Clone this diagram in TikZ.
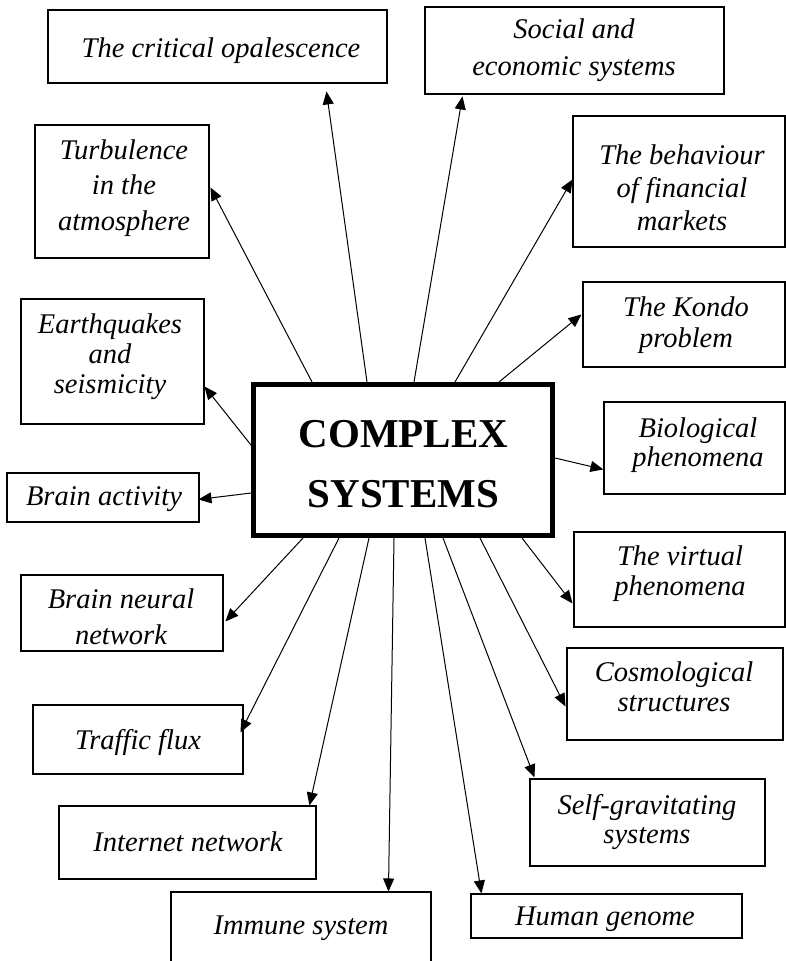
\documentclass[tikz,border=0pt]{standalone}
\usepackage{fontspec}
\setmainfont{Liberation Serif}
\usetikzlibrary{arrows.meta,calc}
\newcommand\lblfont[1]{\fontsize{28.5}{#1}\selectfont\itshape}
\begin{document}
\begin{tikzpicture}[x=1pt,y=-1pt,
  box/.style={draw, line width=1.1pt, inner sep=0pt, rectangle},
  lbl/.style={inner sep=0pt, align=center},
  arr/.style={line width=1pt, -{Triangle[length=13pt,width=11pt]}},
]
\useasboundingbox (0,0) rectangle (786,961);
\clip (0,0) rectangle (786,961);

% central box
\node[draw, line width=5pt, inner sep=0pt, minimum width=299pt, minimum height=151pt] (cs) at (403,460) {};
\node[lbl, font={\fontsize{41}{60}\selectfont\bfseries}] (cst) at (403.5,464) {COMPLEX\\SYSTEMS};

% boxes
\node[box, minimum width=339pt, minimum height=73pt]  (crit)    at (217.5,46.5) {};
\node[box, minimum width=299pt, minimum height=87pt]  (social)  at (574.5,50.5) {};
\node[box, minimum width=174pt, minimum height=133pt] (turb)    at (122,191.5) {};
\node[box, minimum width=212pt, minimum height=131pt] (behav)   at (679,181.5) {};
\node[box, minimum width=202pt, minimum height=85pt]  (kondo)   at (684,324.5) {};
\node[box, minimum width=183pt, minimum height=125pt] (earth)   at (112.5,361.5) {};
\node[box, minimum width=192pt, minimum height=49pt]  (bact)    at (103,497.5) {};
\node[box, minimum width=181pt, minimum height=92pt]  (bio)     at (694.5,448) {};
\node[box, minimum width=211pt, minimum height=95pt]  (virt)    at (679.5,579.5) {};
\node[box, minimum width=202pt, minimum height=76pt]  (neural)  at (122,613) {};
\node[box, minimum width=216pt, minimum height=92pt]  (cosmo)   at (675,694) {};
\node[box, minimum width=210pt, minimum height=69pt]  (traffic) at (138,739.5) {};
\node[box, minimum width=235pt, minimum height=87pt]  (selfg)   at (647.5,822.5) {};
\node[box, minimum width=257pt, minimum height=73pt]  (inet)    at (187.5,842.5) {};
\node[box, minimum width=260pt, minimum height=83pt]  (immune)  at (301,933.5) {};
\node[box, minimum width=271pt, minimum height=44pt]  (human)   at (606.5,916) {};

% labels
\node[lbl, anchor=base, font=\lblfont{34}] (critt) at (221,57) {The critical opalescence};
\node[lbl, font=\lblfont{37}] (socialt) at (574,50.5) {Social and\\economic systems};
\node[lbl, font=\lblfont{35.5}] (turbt) at (124,188) {Turbulence\\in the\\atmosphere};
\node[lbl, font=\lblfont{33}] (behavt) at (682,188) {The behaviour\\of financial\\markets};
\node[lbl, font=\lblfont{30.5}] (kondot) at (686,325) {The Kondo\\problem};
\node[lbl, font=\lblfont{30}] (eartht) at (110,356.5) {Earthquakes\\and\\seismicity};
\node[lbl, anchor=base, font=\lblfont{34}] (bactt) at (104,505) {Brain activity};
\node[lbl, font=\lblfont{29}] (biot) at (698,445) {Biological\\phenomena};
\node[lbl, font=\lblfont{30}] (virtt) at (680,574) {The virtual\\phenomena};
\node[lbl, font=\lblfont{36}] (neuralt) at (121,616.5) {Brain neural\\network};
\node[lbl, font=\lblfont{30}] (cosmot) at (674,686.5) {Cosmological\\structures};
\node[lbl, anchor=base, font=\lblfont{34}] (traffict) at (138,749) {Traffic flux};
\node[lbl, font=\lblfont{29.5}] (selfgt) at (647,822) {Self-gravitating\\systems};
\node[lbl, anchor=base, font=\lblfont{34}] (inett) at (188,851) {Internet network};
\node[lbl, anchor=base, font=\lblfont{34}] (immunet) at (301,934) {Immune system};
\node[lbl, anchor=base, font=\lblfont{34}] (humant) at (605,925) {Human genome};

% connectors
\draw[arr] ($(cs.north west)+(116,0)$)   -- ($(crit.north west)+(279,82)$);
\draw[arr] ($(cs.north west)+(61,0)$)    -- ($(turb.north west)+(176,63)$);
\draw[arr] ($(cs.north west)+(163,0)$)   -- ($(social.north west)+(38,90)$);
\draw[arr] ($(cs.north west)+(204,0)$)   -- ($(behav.north west)+(0,64)$);
\draw[arr] ($(cs.north west)+(248,0)$)   -- ($(kondo.north west)+(-1,33)$);
\draw[arr] ($(cs.north west)+(0,63)$)    -- ($(earth.north west)+(184,88)$);
\draw[arr] ($(cs.north west)+(0,111)$)   -- ($(bact.north west)+(192,27)$);
\draw[arr] ($(cs.north west)+(304,76)$)  -- ($(bio.north west)+(0,68)$);
\draw[arr] ($(cs.north west)+(52,156)$)  -- ($(neural.north west)+(205,47)$);
\draw[arr] ($(cs.north west)+(88,156)$)  -- ($(traffic.north west)+(208,28)$);
\draw[arr] ($(cs.north west)+(118,156)$) -- ($(inet.north west)+(251,0)$);
\draw[arr] ($(cs.north west)+(143,156)$) -- ($(immune.north west)+(218,0)$);
\draw[arr] ($(cs.north west)+(174,156)$) -- ($(human.north west)+(11,0)$);
\draw[arr] ($(cs.north west)+(192,156)$) -- ($(selfg.north west)+(5,-1)$);
\draw[arr] ($(cs.north west)+(229,156)$) -- ($(cosmo.north west)+(-1,59)$);
\draw[arr] ($(cs.north west)+(271,156)$) -- ($(virt.north west)+(-1,72)$);
\end{tikzpicture}
\end{document}
